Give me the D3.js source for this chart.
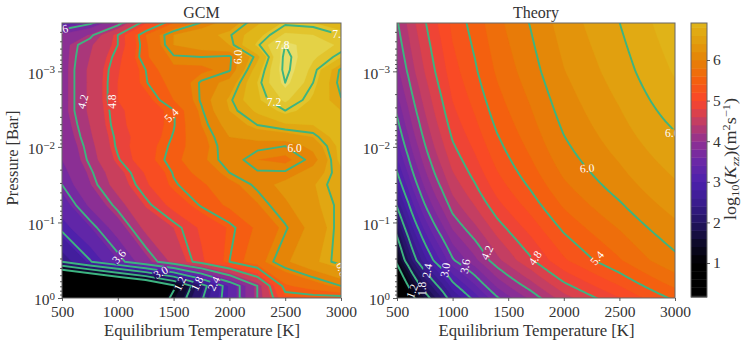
<!DOCTYPE html>
<html>
<head>
<meta charset="utf-8">
<script src="https://cdnjs.cloudflare.com/ajax/libs/d3/7.8.5/d3.min.js"></script>
<style>
  html, body { margin: 0; padding: 0; background: #fff; }
  svg { display: block; }
  text { font-family: "Liberation Serif", serif; fill: #333; }
  .domain { display: none; }
  .tick line { stroke: #333; stroke-width: 0.8; }
  .clabel { fill: #fff; font-size: 11.5px; text-anchor: middle; dominant-baseline: central; }
</style>
</head>
<body>
<svg width="748" height="346"></svg>
<script>
// log10(Kzz)
var gcmTemps = [500, 750, 1000, 1250, 1500, 1750, 2000, 2250, 2500, 2750, 3000];
var gcmLogP = [0, -0.16, -0.48, -0.93, -1.23, -1.50, -1.66, -1.83, -2.01, -2.13, -2.29, -2.48, -2.62, -2.85, -3.02, -3.19, -3.35, -3.48, -3.64];
var gcmValues = [
  [-1.0, -0.9, -0.7, 0.3, 1.35, 2.35, 3.25, 4.2, 5.25, 5.28, 5.28],
  [-1.2, -0.75, -0.2, 0.3, 1.1, 2.2, 3.25, 4.2, 5.55, 5.75, 6.0],
  [2.4, 2.97, 3.47, 3.99, 4.48, 4.95, 5.4, 5.8, 6.15, 6.45, 6.68],
  [3.08, 3.48, 3.95, 4.48, 4.7, 5.05, 5.33, 5.65, 5.97, 6.3, 6.7],
  [3.35, 3.85, 4.28, 4.72, 5.1, 5.43, 5.65, 5.88, 6.15, 6.45, 6.65],
  [3.6, 4.08, 4.53, 4.95, 5.37, 5.55, 5.82, 6.05, 6.3, 6.48, 6.72],
  [3.7, 4.15, 4.6, 5.03, 5.42, 5.7, 6.0, 6.02, 6.02, 6.35, 6.72],
  [3.8, 4.25, 4.77, 5.2, 5.5, 5.85, 6.1, 5.9, 5.85, 6.06, 6.9],
  [3.85, 4.3, 4.85, 5.2, 5.45, 5.8, 6.15, 6.05, 6.0, 6.3, 6.9],
  [3.9, 4.35, 4.87, 5.15, 5.42, 5.83, 6.2, 6.3, 6.35, 6.5, 7.0],
  [3.95, 4.4, 4.93, 5.15, 5.38, 5.9, 6.32, 6.6, 6.75, 6.8, 7.0],
  [4.0, 4.45, 4.95, 5.15, 5.38, 5.97, 6.5, 6.85, 7.2, 6.95, 6.8],
  [4.0, 4.45, 5.0, 5.2, 5.6, 6.03, 6.55, 7.05, 7.45, 7.05, 6.62],
  [4.0, 4.45, 5.0, 5.38, 5.7, 6.03, 6.3, 7.1, 7.8, 7.2, 6.5],
  [4.0, 4.45, 4.97, 5.4, 5.85, 5.85, 5.97, 6.95, 7.9, 7.3, 6.55],
  [4.0, 4.4, 4.9, 5.55, 5.97, 6.0, 5.95, 6.7, 7.9, 7.45, 7.1],
  [4.0, 4.35, 4.8, 5.55, 6.2, 6.35, 6.5, 7.15, 7.8, 7.55, 7.35],
  [3.85, 4.12, 4.8, 5.6, 6.2, 6.4, 6.57, 7.0, 7.45, 7.4, 7.2],
  [3.3, 3.55, 4.05, 4.98, 5.6, 6.03, 6.35, 6.75, 7.15, 7.1, 6.95]
];

var theoryTemps = [500, 600, 700, 800, 900, 1000, 1200, 1400, 1700, 2000, 2500, 3000];
var theoryLogP = [0, -0.25, -0.5, -1, -1.5, -2, -2.5, -3, -3.64];
var theoryValues = [
  [0.17, 0.9, 1.4, 1.82, 2.17, 2.55, 3.1, 3.54, 4.07, 4.47, 5.0, 5.45],
  [0.75, 1.42, 2.0, 2.4, 2.7, 3.05, 3.58, 4.0, 4.48, 4.85, 5.35, 5.77],
  [1.22, 2.0, 2.47, 2.85, 3.2, 3.48, 3.9, 4.23, 4.78, 5.1, 5.6, 5.93],
  [2.1, 2.73, 3.2, 3.6, 3.88, 4.15, 4.5, 4.77, 5.17, 5.5, 5.88, 6.2],
  [2.85, 3.32, 3.72, 4.02, 4.27, 4.47, 4.82, 5.1, 5.5, 5.75, 6.15, 6.4],
  [3.35, 3.75, 4.07, 4.35, 4.57, 4.76, 5.05, 5.33, 5.67, 5.96, 6.3, 6.52],
  [3.65, 4.0, 4.3, 4.52, 4.77, 4.95, 5.25, 5.5, 5.8, 6.07, 6.4, 6.72],
  [3.95, 4.25, 4.5, 4.72, 4.92, 5.07, 5.4, 5.6, 5.93, 6.17, 6.5, 6.83],
  [4.17, 4.45, 4.68, 4.88, 5.07, 5.23, 5.5, 5.72, 6.03, 6.27, 6.6, 6.93]
];

var lineLevels = [1.2, 1.8, 2.4, 3.0, 3.6, 4.2, 4.8, 5.4, 6.0, 6.6, 7.2, 7.8];
var xTicks = [500, 1000, 1500, 2000, 2500, 3000];
var yTicks = [1, 0.1, 0.01, 0.001];
var cbarTicks = [1, 2, 3, 4, 5, 6];

// contour labels: [temperature, log10 P, text, rotation]
var gcmLabels = [
  [490, -3.55, "3.6", -15], [685, -2.6, "4.2", -75], [945, -2.6, "4.8", -90], [1480, -2.42, "5.4", -45],
  [2075, -3.19, "6.0", -88], [2475, -3.35, "7.8", 0], [2400, -2.6, "7.2", 0], [2985, -3.5, "7.2", 0],
  [2585, -1.99, "6.0", 0], [3010, -0.38, "6.6", 70], [1010, -0.55, "3.6", -50], [1385, -0.34, "3.0", -30],
  [1555, -0.19, "1.2", -65], [1710, -0.19, "1.8", -65], [1860, -0.19, "2.4", -65]
];
var theoryLabels = [
  [635, -0.09, "1.2", -70], [725, -0.12, "1.8", -90], [770, -0.36, "2.4", -80], [932, -0.37, "3.0", -80],
  [1112, -0.42, "3.6", -80], [1309, -0.6, "4.2", -65], [1741, -0.53, "4.8", -55], [2298, -0.53, "5.4", -50],
  [2210, -1.72, "6.0", -5], [2975, -2.18, "6.6", 0]
];

var cmapStops = [0.17, 1, 1.5, 2, 2.5, 3, 3.5, 4, 4.5, 5, 5.5, 6, 6.5, 7, 7.5, 8];
var cmapColors = ["#000000", "#000000", "#0e0a2a", "#221460", "#3a1c8e", "#4c20ac", "#6a28a6", "#8f3092", "#c43e62", "#fa452a",
  "#f4600f", "#e58206", "#e1a00f", "#e0b81a", "#e4d040", "#e8e278"];
var color = d3.scaleLinear().domain(cmapStops).range(cmapColors).clamp(true);

var svg = d3.select("svg");
var top_ = 23, bottom = 298;
var defs = svg.append("defs");

function drawPanel(id, title, x0, x1, grid, nx, ny, sx, sy, fillStep, labels) {
  var x = d3.scaleLinear().domain([500, 3000]).range([x0, x1]);
  var y = d3.scaleLog().domain([1, Math.pow(10, -3.64)]).range([bottom, top_]);

  var path = d3.geoPath(d3.geoTransform({
    point: function(px, py) { this.stream.point(x(sx(px)), y(Math.pow(10, sy(py)))); }
  }));

  defs.append("clipPath").attr("id", "clip" + id).append("rect")
    .attr("x", x0).attr("y", top_).attr("width", x1 - x0).attr("height", bottom - top_);

  var mask = defs.append("mask").attr("id", "mask" + id)
    .attr("maskUnits", "userSpaceOnUse").attr("x", 0).attr("y", 0).attr("width", 748).attr("height", 346);
  mask.append("rect").attr("width", 748).attr("height", 346).attr("fill", "#fff");
  mask.selectAll("rect.hole").data(labels).enter().append("rect").attr("class", "hole")
    .attr("x", -8).attr("y", -4).attr("width", 16).attr("height", 8).attr("fill", "#000")
    .attr("transform", function(d) { return "translate(" + x(d[0]) + "," + y(Math.pow(10, d[1])) + ") rotate(" + d[3] + ")"; });

  var g = svg.append("g").attr("clip-path", "url(#clip" + id + ")");
  g.append("rect").attr("x", x0).attr("y", top_).attr("width", x1 - x0).attr("height", bottom - top_)
    .attr("fill", color(0));

  var bands = d3.range(0.2, 8.4, fillStep);
  g.selectAll("path.band")
    .data(d3.contours().size([nx, ny]).thresholds(bands)(grid))
    .enter().append("path").attr("class", "band")
    .attr("d", path)
    .attr("fill", function(d) { return color(d.value + fillStep / 2); })
    .attr("stroke", function(d) { return color(d.value + fillStep / 2); })
    .attr("stroke-width", 0.3);

  g.append("g").attr("mask", "url(#mask" + id + ")").selectAll("path")
    .data(d3.contours().size([nx, ny]).thresholds(lineLevels)(grid))
    .enter().append("path")
    .attr("d", path)
    .attr("fill", "none")
    .attr("stroke", "#3db480")
    .attr("stroke-width", 1.9)
    .attr("stroke-linejoin", "round");

  g.selectAll("text").data(labels).enter().append("text")
    .attr("class", "clabel")
    .attr("transform", function(d) { return "translate(" + x(d[0]) + "," + y(Math.pow(10, d[1])) + ") rotate(" + d[3] + ")"; })
    .text(function(d) { return d[2]; });

  // frame
  svg.append("rect").attr("x", x0).attr("y", top_).attr("width", x1 - x0).attr("height", bottom - top_)
    .attr("fill", "none").attr("stroke", "#666").attr("stroke-width", 1);

  var xAxis = svg.append("g").attr("transform", "translate(0," + bottom + ")")
    .call(d3.axisBottom(x).tickValues(xTicks).tickSize(3).tickPadding(4.5).tickFormat(d3.format("d")));
  xAxis.selectAll("text").style("font-size", "15.5px");

  var minor = [];
  [0.0001, 0.001, 0.01, 0.1].forEach(function(d) {
    d3.range(2, 10).forEach(function(k) { if (d * k > Math.pow(10, -3.64)) minor.push(d * k); });
  });
  svg.append("g").attr("transform", "translate(" + x0 + ",0)")
    .call(d3.axisLeft(y).tickValues(minor).tickSize(2).tickFormat(""));
  var yAxis = svg.append("g").attr("transform", "translate(" + x0 + ",0)")
    .call(d3.axisLeft(y).tickValues(yTicks).tickSize(4).tickPadding(3).tickFormat(""));
  yAxis.selectAll(".tick text").each(function(d) {
    var t = d3.select(this).style("font-size", "15.5px").attr("dy", "0.45em");
    t.append("tspan").text("10");
    t.append("tspan").attr("dy", "-0.5em").style("font-size", "11px").text(Math.round(Math.log10(d)) === 0 ? "0" : "\u2212" + Math.abs(Math.round(Math.log10(d))));
  });

  svg.append("text").attr("x", (x0 + x1) / 2).attr("y", 18).attr("text-anchor", "middle")
    .style("font-size", "16px").text(title);
  svg.append("text").attr("x", (x0 + x1) / 2 + 0.5).attr("y", 336).attr("text-anchor", "middle")
    .style("font-size", "16.7px").text("Equilibrium Temperature [K]");
}

// GCM: table goes straight to d3.contours
var gcmGrid = [];
gcmValues.forEach(function(row) { row.forEach(function(v) { gcmGrid.push(v); }); });
var gcmColScale = d3.scaleLinear().domain(gcmTemps.map(function(d, i) { return i + 0.5; })).range(gcmTemps);
var gcmRowScale = d3.scaleLinear().domain(gcmLogP.map(function(d, i) { return i + 0.5; })).range(gcmLogP);
drawPanel("a", "GCM", 62, 341, gcmGrid, gcmTemps.length, gcmLogP.length,
  gcmColScale, gcmRowScale, 0.3, gcmLabels);

// Theory: the table is resampled and blurred so the curves come out round.
// Two ghost rows/columns each side keep the edges straight under the blur.
function crom(a, b, c, d, t) {
  return 0.5 * (2 * b + (c - a) * t + (2 * a - 5 * b + 4 * c - d) * t * t + (3 * b - a - 3 * c + d) * t * t * t);
}
function ghost(arr) {
  var n = arr.length;
  return [3 * arr[0] - 2 * arr[1], 2 * arr[0] - arr[1]].concat(arr, [2 * arr[n - 1] - arr[n - 2], 3 * arr[n - 1] - 2 * arr[n - 2]]);
}
var extCols = theoryValues.map(ghost);
var extTable = d3.transpose(d3.transpose(extCols).map(ghost));

var perCell = 14;
var cols = theoryTemps.length, rows = theoryLogP.length;
var nx = (cols + 1) * perCell, ny = (rows + 1) * perCell;
var thGrid = new Float64Array(nx * ny);
for (var j = 0; j < ny; j++) {
  var cy = -1 + (j + 0.5) / perCell, jj = Math.floor(cy);
  for (var i = 0; i < nx; i++) {
    var cx = -1 + (i + 0.5) / perCell, ii = Math.floor(cx), acc = [];
    for (var r = jj - 1; r <= jj + 2; r++) {
      var row = extTable[Math.max(0, Math.min(rows + 3, r + 2))];
      var v = function(k) { return row[Math.max(0, Math.min(cols + 3, k + 2))]; };
      acc.push(crom(v(ii - 1), v(ii), v(ii + 1), v(ii + 2), cx - ii));
    }
    thGrid[j * nx + i] = crom(acc[0], acc[1], acc[2], acc[3], cy - jj);
  }
}
d3.blur2({data: thGrid, width: nx, height: ny}, 9);

var idxToLogT = d3.scaleLinear().domain(d3.range(cols)).range(theoryTemps.map(Math.log));
var idxToLogP = d3.scaleLinear().domain(d3.range(rows)).range(theoryLogP);
drawPanel("b", "Theory", 397, 675, thGrid, nx, ny,
  function(v) { return Math.exp(idxToLogT(-1 + v / perCell)); },
  function(v) { return idxToLogP(-1 + v / perCell); },
  0.2, theoryLabels);

svg.append("text").attr("transform", "translate(18,158) rotate(-90)").attr("text-anchor", "middle")
  .style("font-size", "16.5px").text("Pressure [Bar]");

// colorbar
var cbarX = 691, cbarW = 16;
var cbarY = d3.scaleLinear().domain([1, 6]).range([263, 60]);
var cbarMin = cbarY.invert(297), cbarMax = cbarY.invert(23);
var cbarBands = d3.range(0, 7, 0.2).filter(function(d) { return d + 0.2 > cbarMin && d < cbarMax; });
svg.append("g").selectAll("rect").data(cbarBands).enter().append("rect")
  .attr("x", cbarX).attr("width", cbarW)
  .attr("y", function(d) { return cbarY(Math.min(d + 0.2, cbarMax)); })
  .attr("height", function(d) { return cbarY(Math.max(d, cbarMin)) - cbarY(Math.min(d + 0.2, cbarMax)) + 0.4; })
  .attr("fill", function(d) { return color(d + 0.1); });
svg.append("rect").attr("x", cbarX).attr("y", 23).attr("width", cbarW).attr("height", 274)
  .attr("fill", "none").attr("stroke", "#666").attr("stroke-width", 1);
var cAxis = svg.append("g").attr("transform", "translate(" + (cbarX + cbarW) + ",0)")
  .call(d3.axisRight(cbarY).tickValues(cbarTicks).tickSize(3).tickPadding(3).tickFormat(d3.format("d")));
cAxis.selectAll("text").style("font-size", "15.5px");

var cLabel = svg.append("text").attr("transform", "translate(736,159) rotate(-90)").attr("text-anchor", "middle")
  .attr("textLength", 122).attr("lengthAdjust", "spacingAndGlyphs")
  .style("font-size", "16px");
cLabel.append("tspan").text("log");
cLabel.append("tspan").attr("dy", 3).style("font-size", "11px").text("10");
cLabel.append("tspan").attr("dy", -3).text("(");
cLabel.append("tspan").style("font-style", "italic").text("K");
cLabel.append("tspan").attr("dy", 3).style("font-size", "11px").style("font-style", "italic").text("zz");
cLabel.append("tspan").attr("dy", -3).text(")(m");
cLabel.append("tspan").attr("dy", -6).style("font-size", "11px").text("2");
cLabel.append("tspan").attr("dy", 6).text("s");
cLabel.append("tspan").attr("dy", -6).style("font-size", "11px").text("\u22121");
cLabel.append("tspan").attr("dy", 6).text(")");
</script>
</body>
</html>
